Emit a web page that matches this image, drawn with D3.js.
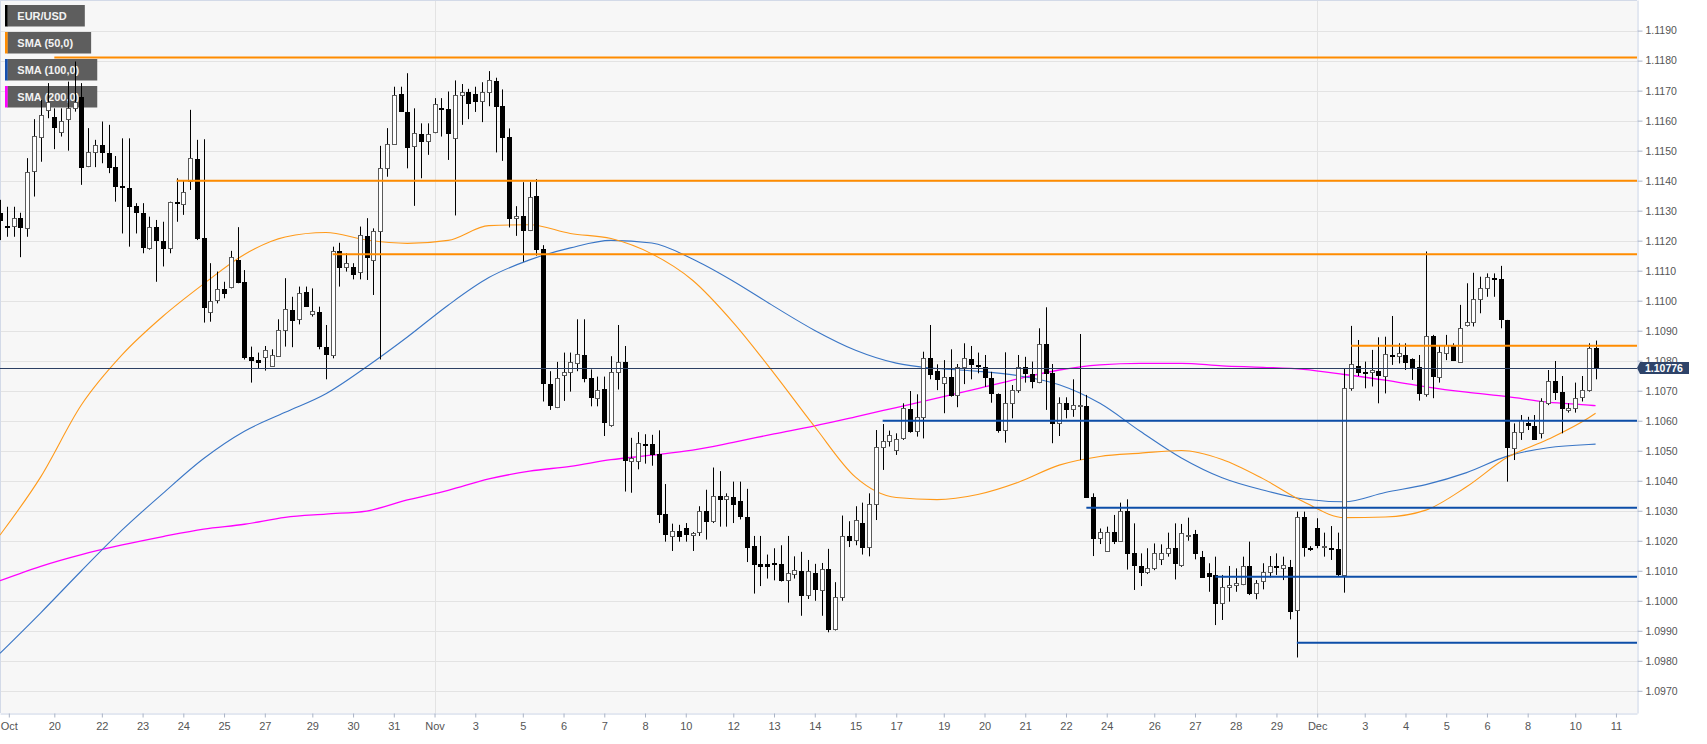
<!DOCTYPE html>
<html><head><meta charset="utf-8">
<script src="https://cdn.jsdelivr.net/npm/d3@7"></script>
<style>
body{margin:0;background:#fff;}
svg{display:block;font-family:"Liberation Sans",Arial,Helvetica,sans-serif;}
</style>
</head><body>
<svg id="chart" width="1707" height="744"></svg>
<script>
// ---------- DATA (EUR/USD, 4h candles) ----------
const opens = [
1.11291,1.11248,1.11249,1.11275,1.11241,1.11432,1.11547,1.11636,1.11611,1.11561,
1.11605,1.11641,1.11678,1.11449,1.11495,1.11518,1.11493,1.11445,1.11381,1.11377,
1.11316,1.11291,1.11175,1.11244,1.11198,1.11175,1.11330,1.11322,1.11400,1.11471,
1.11210,1.10963,1.11002,1.11038,1.11047,1.11136,1.11061,1.10811,1.10802,1.10811,
1.10783,1.10816,1.10902,1.10969,1.10938,1.11030,1.10956,1.10963,1.10847,1.10819,
1.11166,1.11111,1.11113,1.11097,1.11216,1.11136,1.11231,1.11442,1.11522,1.11688,
1.11630,1.11516,1.11556,1.11532,1.11563,1.11643,1.11638,1.11543,1.11685,1.11694,
1.11689,1.11664,1.11694,1.11733,1.11648,1.11547,1.11274,1.11281,1.11234,1.11348,
1.11173,1.10721,1.10646,1.10753,1.10763,1.10792,1.10818,1.10741,1.10676,1.10706,
1.10586,1.10761,1.10796,1.10466,1.10466,1.10524,1.10522,1.10488,1.10290,1.10216,
1.10232,1.10241,1.10220,1.10228,1.10299,1.10265,1.10348,1.10339,1.10346,1.10333,
1.10280,1.10181,1.10123,1.10121,1.10126,1.10123,1.10068,1.10089,1.10099,1.10018,
1.10092,1.10037,1.10105,1.09907,1.10012,1.10216,1.10204,1.10259,1.10179,1.10322,
1.10511,1.10532,1.10502,1.10541,1.10639,1.10567,1.10611,1.10810,1.10766,1.10725,
1.10745,1.10686,1.10780,1.10806,1.10787,1.10780,1.10743,1.10689,1.10569,1.10658,
1.10702,1.10780,1.10755,1.10730,1.10855,1.10758,1.10591,1.10660,1.10639,1.10650,
1.10650,1.10345,1.10208,1.10166,1.10228,1.10199,1.10300,1.10158,1.10117,1.10095,
1.10108,1.10138,1.10158,1.10175,1.10119,1.10219,1.10221,1.10147,1.10091,1.10086,
1.09991,1.10047,1.10052,1.10056,1.10116,1.10027,1.10066,1.10097,1.10116,1.10108,
1.10113,1.09969,1.10280,1.10175,1.10241,1.10180,1.10175,1.10174,1.10086,1.10710,
1.10783,1.10763,1.10763,1.10766,1.10750,1.10819,1.10816,1.10819,1.10805,1.10778,
1.10689,1.10882,1.10747,1.10827,1.10852,1.10797,1.10919,1.10928,1.11005,1.11041,
1.11075,1.11071,1.10936,1.10508,1.10563,1.10593,1.10582,1.10558,1.10658,1.10733,
1.10695,1.10636,1.10644,1.10678,1.10702,1.10841
];
const highs = [
1.11336,1.11313,1.11313,1.11293,1.11475,1.11605,1.11669,1.11725,1.11641,1.11641,
1.11730,1.11797,1.11725,1.11575,1.11536,1.11597,1.11586,1.11482,1.11541,1.11541,
1.11325,1.11325,1.11280,1.11269,1.11263,1.11330,1.11408,1.11402,1.11636,1.11536,
1.11538,1.11125,1.11097,1.11063,1.11166,1.11245,1.11102,1.10847,1.10827,1.10849,
1.10838,1.10938,1.11075,1.11013,1.11047,1.11047,1.11041,1.10980,1.10919,1.11180,
1.11193,1.11158,1.11125,1.11247,1.11275,1.11241,1.11516,1.11575,1.11713,1.11713,
1.11758,1.11641,1.11591,1.11591,1.11675,1.11675,1.11697,1.11734,1.11722,1.11706,
1.11713,1.11728,1.11765,1.11743,1.11704,1.11574,1.11315,1.11395,1.11395,1.11405,
1.11185,1.10765,1.10796,1.10827,1.10827,1.10938,1.10938,1.10771,1.10747,1.10747,
1.10815,1.10919,1.10849,1.10543,1.10562,1.10555,1.10553,1.10568,1.10389,1.10257,
1.10253,1.10259,1.10229,1.10315,1.10370,1.10444,1.10432,1.10358,1.10397,1.10397,
1.10373,1.10216,1.10216,1.10154,1.10175,1.10185,1.10216,1.10148,1.10163,1.10136,
1.10123,1.10126,1.10173,1.10062,1.10284,1.10265,1.10315,1.10327,1.10358,1.10569,
1.10589,1.10567,1.10558,1.10658,1.10699,1.10688,1.10830,1.10919,1.10788,1.10802,
1.10838,1.10789,1.10858,1.10849,1.10827,1.10819,1.10763,1.10691,1.10828,1.10719,
1.10819,1.10813,1.10797,1.10908,1.10978,1.10789,1.10678,1.10678,1.10738,1.10889,
1.10686,1.10358,1.10241,1.10247,1.10286,1.10327,1.10338,1.10258,1.10158,1.10175,
1.10191,1.10188,1.10227,1.10258,1.10256,1.10277,1.10236,1.10166,1.10125,1.10147,
1.10086,1.10116,1.10108,1.10147,1.10197,1.10069,1.10125,1.10149,1.10158,1.10147,
1.10136,1.10297,1.10297,1.10182,1.10275,1.10227,1.10249,1.10227,1.10775,1.10916,
1.10869,1.10797,1.10836,1.10878,1.10880,1.10949,1.10858,1.10858,1.10808,1.10819,
1.11164,1.10886,1.10852,1.10886,1.10858,1.10986,1.11058,1.11093,1.11080,1.11091,
1.11091,1.11116,1.10936,1.10591,1.10619,1.10613,1.10619,1.10675,1.10769,1.10799,
1.10749,1.10658,1.10727,1.10749,1.10858,1.10867
];
const lows = [
1.11202,1.11213,1.11213,1.11145,1.11213,1.11347,1.11463,1.11608,1.11505,1.11547,
1.11500,1.11630,1.11386,1.11445,1.11445,1.11458,1.11425,1.11330,1.11224,1.11180,
1.11224,1.11158,1.11170,1.11063,1.11114,1.11158,1.11263,1.11286,1.11369,1.11202,
1.10927,1.10930,1.10991,1.11008,1.11041,1.11058,1.10804,1.10727,1.10775,1.10767,
1.10780,1.10813,1.10847,1.10845,1.10921,1.10980,1.10947,1.10838,1.10738,1.10808,
1.11047,1.11097,1.11071,1.11071,1.11069,1.11019,1.10804,1.11413,1.11520,1.11630,
1.11441,1.11316,1.11408,1.11486,1.11558,1.11547,1.11469,1.11284,1.11586,1.11605,
1.11629,1.11595,1.11648,1.11494,1.11466,1.11244,1.11216,1.11130,1.11232,1.11150,
1.10664,1.10636,1.10642,1.10666,1.10697,1.10765,1.10728,1.10648,1.10648,1.10549,
1.10580,1.10704,1.10364,1.10360,1.10438,1.10457,1.10450,1.10259,1.10197,1.10166,
1.10197,1.10197,1.10166,1.10216,1.10204,1.10259,1.10247,1.10247,1.10259,1.10271,
1.10129,1.10024,1.10049,1.10074,1.10068,1.10064,1.09994,1.10074,1.09950,1.10006,
1.10000,1.09950,1.09895,1.09901,1.10000,1.10179,1.10185,1.10154,1.10148,1.10269,
1.10436,1.10514,1.10486,1.10536,1.10560,1.10547,1.10541,1.10738,1.10702,1.10625,
1.10680,1.10645,1.10722,1.10738,1.10758,1.10713,1.10660,1.10560,1.10527,1.10608,
1.10693,1.10727,1.10708,1.10725,1.10636,1.10525,1.10549,1.10608,1.10613,1.10469,
1.10345,1.10149,1.10189,1.10163,1.10189,1.10197,1.10104,1.10036,1.10049,1.10089,
1.10102,1.10119,1.10147,1.10071,1.10113,1.10200,1.10138,1.10078,1.10030,1.09919,
1.09936,1.09997,1.10030,1.10052,1.10019,1.10005,1.10038,1.10078,1.10086,1.10069,
1.09938,1.09811,1.10147,1.10166,1.10175,1.10147,1.10136,1.10080,1.10027,1.10700,
1.10749,1.10708,1.10714,1.10658,1.10691,1.10786,1.10791,1.10769,1.10736,1.10667,
1.10680,1.10675,1.10727,1.10802,1.10800,1.10794,1.10914,1.10914,1.10958,1.11013,
1.11013,1.10908,1.10397,1.10469,1.10536,1.10569,1.10536,1.10541,1.10652,1.10669,
1.10558,1.10627,1.10627,1.10664,1.10697,1.10738
];
const closes = [
1.11269,1.11246,1.11277,1.11245,1.11430,1.11549,1.11619,1.11663,1.11578,1.11600,
1.11641,1.11663,1.11447,1.11497,1.11518,1.11497,1.11446,1.11383,1.11379,1.11317,
1.11297,1.11178,1.11247,1.11201,1.11176,1.11328,1.11329,1.11363,1.11475,1.11210,
1.10978,1.11000,1.11038,1.11027,1.11145,1.11063,1.10811,1.10804,1.10797,1.10836,
1.10819,1.10902,1.10971,1.10936,1.11027,1.10983,1.10967,1.10849,1.10822,1.11167,
1.11113,1.11125,1.11088,1.11219,1.11145,1.11232,1.11443,1.11522,1.11686,1.11632,
1.11513,1.11558,1.11533,1.11555,1.11655,1.11639,1.11558,1.11685,1.11694,1.11660,
1.11664,1.11694,1.11734,1.11650,1.11547,1.11275,1.11281,1.11234,1.11346,1.11173,
1.10726,1.10652,1.10743,1.10763,1.10796,1.10821,1.10741,1.10679,1.10704,1.10596,
1.10761,1.10796,1.10469,1.10475,1.10527,1.10522,1.10488,1.10290,1.10222,1.10234,
1.10216,1.10222,1.10227,1.10299,1.10265,1.10348,1.10339,1.10348,1.10321,1.10281,
1.10179,1.10123,1.10117,1.10116,1.10121,1.10068,1.10092,1.10101,1.10018,1.10099,
1.10039,1.10107,1.09907,1.10012,1.10216,1.10201,1.10269,1.10179,1.10321,1.10511,
1.10533,1.10551,1.10539,1.10641,1.10567,1.10611,1.10808,1.10756,1.10738,1.10747,
1.10686,1.10780,1.10808,1.10789,1.10785,1.10747,1.10691,1.10569,1.10660,1.10702,
1.10780,1.10758,1.10733,1.10855,1.10758,1.10591,1.10660,1.10639,1.10652,1.10651,
1.10347,1.10208,1.10228,1.10230,1.10200,1.10300,1.10158,1.10119,1.10097,1.10108,
1.10158,1.10158,1.10175,1.10125,1.10225,1.10220,1.10158,1.10080,1.10083,1.09991,
1.10047,1.10052,1.10058,1.10117,1.10027,1.10058,1.10097,1.10117,1.10111,1.10119,
1.09967,1.10280,1.10180,1.10174,1.10186,1.10181,1.10174,1.10089,1.10710,1.10788,
1.10763,1.10760,1.10769,1.10752,1.10821,1.10816,1.10827,1.10795,1.10780,1.10691,
1.10882,1.10750,1.10828,1.10852,1.10802,1.10908,1.10930,1.11005,1.11041,1.11078,
1.11071,1.10938,1.10511,1.10563,1.10602,1.10586,1.10538,1.10667,1.10733,1.10697,
1.10644,1.10641,1.10677,1.10702,1.10841,1.10776
];

// moving averages at these candle positions
const smaIdx = [0,6,12,18,24,30,36,42,48,54,60,66,72,78,84,90,96,102,108,114,120,126,132,138,144,150,156,162,168,174,180,186,192,198,204,210,216,222,228,234,235];
const sma50 = [1.10219,1.10413,1.10653,1.10820,1.10948,1.11056,1.11154,1.11212,1.11227,1.11202,1.11191,1.11201,1.11250,1.11253,1.11224,1.11207,1.11156,1.11068,1.10927,1.10758,1.10580,1.10412,1.10344,1.10337,1.10354,1.10395,1.10452,1.10481,1.10492,1.10501,1.10471,1.10407,1.10330,1.10277,1.10279,1.10302,1.10380,1.10478,1.10538,1.10610,1.10625];
const sma100 = [1.09825,1.09960,1.10100,1.10236,1.10358,1.10474,1.10565,1.10628,1.10690,1.10780,1.10879,1.10985,1.11077,1.11136,1.11176,1.11201,1.11192,1.11139,1.11065,1.10981,1.10901,1.10835,1.10792,1.10774,1.10765,1.10750,1.10720,1.10658,1.10564,1.10476,1.10410,1.10369,1.10339,1.10330,1.10361,1.10387,1.10427,1.10482,1.10510,1.10521,1.10522];
const sma200 = [1.10067,1.10115,1.10154,1.10186,1.10214,1.10239,1.10255,1.10278,1.10289,1.10299,1.10336,1.10368,1.10406,1.10432,1.10448,1.10470,1.10485,1.10502,1.10528,1.10556,1.10583,1.10613,1.10644,1.10675,1.10707,1.10740,1.10769,1.10786,1.10791,1.10791,1.10783,1.10778,1.10771,1.10754,1.10735,1.10713,1.10695,1.10680,1.10662,1.10652,1.10650];

// horizontal levels (value, candle where it starts)
const resistance = [1.1181, 1.1140, 1.11155, 1.1085];
const resistanceStart = [8, 26, 49, 199];
const support = [1.1060, 1.1031, 1.1008, 1.0986];
const supportStart = [130, 160, 179, 191];
const lastPrice = 1.10776;

// axes
const yTicks = [1.0970,1.0980,1.0990,1.1000,1.1010,1.1020,1.1030,1.1040,1.1050,1.1060,1.1070,1.1080,1.1090,1.1100,1.1110,1.1120,1.1130,1.1140,1.1150,1.1160,1.1170,1.1180,1.1190];
const xTickIdx = [1.3,8,15,21,27,33,39,46,52,58,64,70,77,83,89,95,101,108,114,120,126,132,139,145,151,157,163,170,176,182,188,194,201,207,213,219,225,232,238];
const xTickLabels = ["Oct","20","22","23","24","25","27","29","30","31","Nov","3","5","6","7","8","10","12","13","14","15","17","19","20","21","22","24","26","27","28","29","Dec","3","4","5","6","8","10","11"];
const monthIdx = [64, 194];
const legendLabels = ["EUR/USD","SMA (50,0)","SMA (100,0)","SMA (200,0)"];

// ---------- DRAWING ----------
const svg = d3.select("#chart");
const plotR = 1637, plotB = 713;
const x = d3.scaleLinear().domain([0, 241.1]).range([0, plotR]);
const y = d3.scaleLinear().domain([1.09626, 1.12002]).range([plotB, 0]);
const crisp = v => Math.round(v) + 0.5;

svg.append("rect").attr("x",0).attr("y",0).attr("width",plotR).attr("height",plotB).attr("fill","#f7f7f7");

// grid
svg.append("g").selectAll("line").data(yTicks).join("line")
  .attr("x1",0).attr("x2",plotR)
  .attr("y1",d=>crisp(y(d))).attr("y2",d=>crisp(y(d)))
  .attr("stroke","#e3e3e3").attr("stroke-width",1);
svg.append("g").selectAll("line").data(monthIdx).join("line")
  .attr("x1",d=>crisp(x(d))).attr("x2",d=>crisp(x(d)))
  .attr("y1",0).attr("y2",plotB)
  .attr("stroke","#e3e3e3").attr("stroke-width",1);

// frame (left / top)
svg.append("line").attr("x1",0.5).attr("x2",0.5).attr("y1",0).attr("y2",plotB).attr("stroke","#d3dae8");
svg.append("line").attr("x1",0).attr("x2",plotR).attr("y1",0.5).attr("y2",0.5).attr("stroke","#d3dae8");

// legend
const legendColors = ["#000000","#ff8c00","#1550b0","#ff00ff"];
const lg = svg.append("g");
legendLabels.forEach((t,i)=>{
  const y0 = 5 + i*27;
  const rect = lg.append("rect").attr("x",7.3).attr("y",y0).attr("height",21.5).attr("fill","#5e5e5e");
  lg.append("rect").attr("x",5).attr("y",y0).attr("width",2.6).attr("height",21.5).attr("fill",legendColors[i]);
  const tx = lg.append("text").attr("x",17.3).attr("y",y0+15.2)
    .attr("fill","#f2f2f2").attr("font-size","11px").attr("font-weight","bold").text(t);
  const w = tx.node().getComputedTextLength();
  rect.attr("width", w + 10 + 18);
});

// SMA lines
const smaLine = arr => d3.line().x((d,i)=>x(smaIdx[i])).y(d=>y(d)).curve(d3.curveMonotoneX)(arr);
svg.append("path").attr("d",smaLine(sma200)).attr("fill","none").attr("stroke","#ff00ff").attr("stroke-width",1.3);
svg.append("path").attr("d",smaLine(sma100)).attr("fill","none").attr("stroke","#3a76c6").attr("stroke-width",1.1);
svg.append("path").attr("d",smaLine(sma50)).attr("fill","none").attr("stroke","#ff9a1a").attr("stroke-width",1.1);

// candles
const candles = opens.map((o,i)=>({i, o, h:highs[i], l:lows[i], c:closes[i]}));
const cg = svg.append("g");
cg.selectAll("line").data(candles).join("line")
  .attr("x1",d=>Math.round(x(d.i))+0.5).attr("x2",d=>Math.round(x(d.i))+0.5)
  .attr("y1",d=>y(d.h)).attr("y2",d=>y(d.l))
  .attr("stroke","#000").attr("stroke-width",1);
cg.selectAll("rect").data(candles).join("rect")
  .attr("x",d=>Math.round(x(d.i))-1.5)
  .attr("width",4)
  .attr("y",d=>Math.round(y(Math.max(d.o,d.c)))+0.5)
  .attr("height",d=>Math.max(1, Math.round(y(Math.min(d.o,d.c))) - Math.round(y(Math.max(d.o,d.c)))))
  .attr("fill",d=>d.c>=d.o?"#ffffff":"#000000")
  .attr("stroke",d=>d.c>=d.o?"#5a5a5a":"#000000")
  .attr("stroke-width",1);

// levels
const lv = svg.append("g");
resistance.forEach((v,i)=>{
  lv.append("line").attr("x1",x(resistanceStart[i])).attr("x2",plotR)
    .attr("y1",y(v)).attr("y2",y(v)).attr("stroke","#ff8c00").attr("stroke-width",2);
});
support.forEach((v,i)=>{
  lv.append("line").attr("x1",x(supportStart[i])).attr("x2",plotR)
    .attr("y1",y(v)).attr("y2",y(v)).attr("stroke","#0d4ea8").attr("stroke-width",2);
});

// current price line
svg.append("line").attr("x1",0).attr("x2",plotR)
  .attr("y1",crisp(y(lastPrice))).attr("y2",crisp(y(lastPrice)))
  .attr("stroke","#2b3f63").attr("stroke-width",1);

// y axis
const yAxis = svg.append("g").attr("transform",`translate(${plotR+0.5},0)`)
  .call(d3.axisRight(y).tickValues(yTicks).tickFormat(d3.format(".4f")).tickSize(5).tickSizeOuter(0).tickPadding(3));
yAxis.select(".domain").attr("stroke","#c8d1e3");
yAxis.selectAll(".tick line").attr("stroke","#aab3c5");
yAxis.selectAll(".tick text").attr("fill","#555").attr("font-size","10.5px").attr("font-family","\"Liberation Sans\",Arial,sans-serif");

// x axis
const xAxis = svg.append("g").attr("transform",`translate(0,${plotB+0.5})`)
  .call(d3.axisBottom(x).tickValues(xTickIdx).tickFormat((d,i)=>xTickLabels[i]).tickSize(4).tickSizeOuter(0).tickPadding(5));
xAxis.select(".domain").attr("stroke","#c8d1e3");
xAxis.selectAll(".tick line").attr("stroke","#aab3c5");
xAxis.selectAll(".tick text").attr("fill","#555").attr("font-size","11px").attr("font-family","\"Liberation Sans\",Arial,sans-serif");

// last price tag
const ly = y(lastPrice);
svg.append("path")
  .attr("d",`M${plotR},${ly} L${plotR+3},${ly-6} L${plotR+52},${ly-6} L${plotR+52},${ly+6} L${plotR+3},${ly+6} Z`)
  .attr("fill","#2e4369");
svg.append("text").attr("x",plotR+8).attr("y",ly+4)
  .attr("fill","#fff").attr("font-size","10.5px").attr("font-weight","bold")
  .text(lastPrice.toFixed(5));
</script>
</body></html>
